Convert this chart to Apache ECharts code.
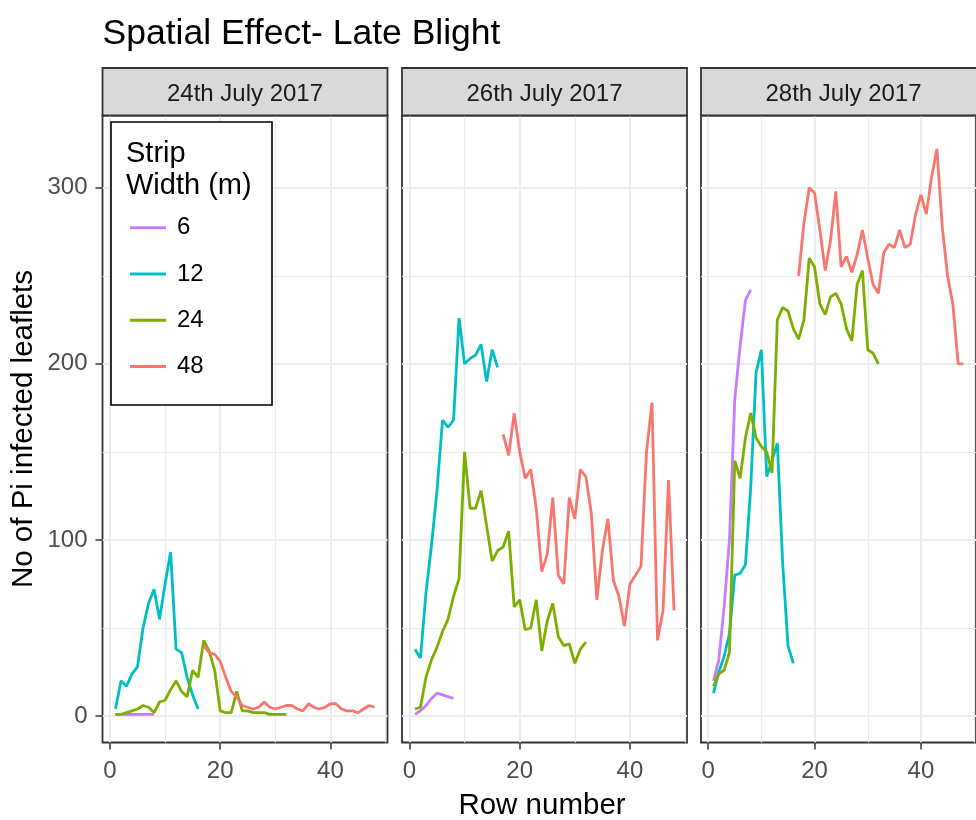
<!DOCTYPE html>
<html>
<head>
<meta charset="utf-8">
<title>Spatial Effect- Late Blight</title>
<script src="https://cdn.jsdelivr.net/npm/echarts@6/dist/echarts.min.js"></script>
<style>
  html, body { margin: 0; padding: 0; background: #ffffff; }
  #main { width: 976px; height: 820px; }
</style>
</head>
<body>
<div id="main"></div>
<script>
// facets and colour groups
var dates = ['24th July 2017', '26th July 2017', '28th July 2017'];
var widths = ['6', '12', '24', '48'];
var widthColors = ['#C77CFF', '#00BFC4', '#7CAE00', '#F8766D'];
var firstRow = [1, 1, 1, 17];   // row where each strip width starts

var xTicks = [0, 20, 40];
var xMinor = [10, 30, 50];
var yTicks = [0, 100, 200, 300];
var yMinor = [50, 150, 250];

// no of infected leaflets per row
var jul24_6  = [1, 1, 1, 1, 1, 1, 1, 1];
var jul24_12 = [4, 20, 17, 24, 28, 50, 64, 72, 55, 75, 93, 38, 36, 22, 12, 4];
var jul24_24 = [1, 1, 2, 3, 4, 6, 5, 2, 8, 9, 15, 20, 14, 11, 26, 22,
                43, 37, 26, 3, 2, 2, 14, 3, 3, 2, 2, 2, 1, 1, 1, 1];
var jul24_48 = [40, 36, 35, 31, 22, 14, 11, 6, 5, 4, 5, 8, 5, 4, 5, 6,
                6, 4, 3, 7, 5, 4, 5, 7, 7, 4, 3, 3, 2, 4, 6, 5];

var jul26_6  = [1, 3, 6, 10, 13, 12, 11, 10];
var jul26_12 = [38, 33, 70, 97, 128, 168, 164, 168, 226, 200, 203, 205, 211, 190, 208, 198];
var jul26_24 = [4, 5, 22, 32, 39, 48, 55, 68, 78, 150, 118, 118, 128, 108, 88, 94,
                96, 105, 62, 66, 49, 50, 66, 37, 54, 64, 45, 40, 41, 30, 38, 42];
var jul26_48 = [160, 148, 172, 150, 135, 140, 118, 82, 92, 124, 80, 75, 124, 112, 140, 136,
                115, 66, 94, 112, 77, 68, 51, 75, 80, 85, 150, 178, 43, 60, 134, 60];

var jul28_6  = [20, 32, 62, 100, 180, 210, 236, 242];
var jul28_12 = [13, 25, 34, 47, 80, 81, 86, 130, 195, 208, 136, 145, 155, 87, 40, 30];
var jul28_24 = [17, 24, 26, 36, 145, 135, 158, 172, 158, 153, 150, 138, 225, 232, 230, 220,
                214, 225, 260, 255, 234, 228, 238, 240, 234, 220, 213, 245, 253, 208, 206, 200];
var jul28_48 = [250, 280, 300, 297, 276, 253, 270, 298, 255, 261, 252, 262, 276, 260, 245, 240,
                263, 268, 266, 276, 266, 268, 285, 296, 285, 306, 322, 278, 250, 234, 200, 200];

var panels = [
  [jul24_6, jul24_12, jul24_24, jul24_48],
  [jul26_6, jul26_12, jul26_24, jul26_48],
  [jul28_6, jul28_12, jul28_24, jul28_48]
];

var font = "'Liberation Sans', Arial, sans-serif";
var panelLeft = [102.5, 402, 701];
var panelW = 285, panelTop = 115.5, panelH = 627, stripTop = 68;

var grids = [], xAxes = [], yAxes = [], series = [], graphics = [];

for (var i = 0; i < panels.length; i++) {
  grids.push({
    left: panelLeft[i], top: panelTop, width: panelW, height: panelH,
    show: true, backgroundColor: '#ffffff', borderColor: '#333333', borderWidth: 1.8
  });

  // major axis: ticks, labels, major grid
  xAxes.push({
    type: 'value', gridIndex: i, min: -1.35, max: 50.35, position: 'bottom',
    axisLine: { show: false, onZero: false },
    axisTick: { show: true, length: 7, customValues: xTicks, lineStyle: { color: '#333333', width: 1.5 } },
    axisLabel: { customValues: xTicks, margin: 17, color: '#4D4D4D', fontSize: 24, fontFamily: font },
    splitLine: { show: true, customValues: xTicks, lineStyle: { color: '#EBEBEB', width: 2 } }
  });
  // minor grid only
  xAxes.push({
    type: 'value', gridIndex: i, min: -1.35, max: 50.35, position: 'bottom',
    axisLine: { show: false, onZero: false },
    axisTick: { show: false, customValues: xMinor },
    axisLabel: { show: false, customValues: xMinor },
    splitLine: { show: true, customValues: xMinor, lineStyle: { color: '#EBEBEB', width: 1.2 } }
  });

  yAxes.push({
    type: 'value', gridIndex: i, min: -15, max: 341, position: 'left',
    axisLine: { show: false, onZero: false },
    axisTick: { show: i === 0, length: 7, customValues: yTicks, lineStyle: { color: '#333333', width: 1.5 } },
    axisLabel: { show: i === 0, customValues: yTicks, margin: 15, color: '#4D4D4D', fontSize: 24, fontFamily: font },
    splitLine: { show: true, customValues: yTicks, lineStyle: { color: '#EBEBEB', width: 2 } }
  });
  yAxes.push({
    type: 'value', gridIndex: i, min: -15, max: 341, position: 'left',
    axisLine: { show: false, onZero: false },
    axisTick: { show: false, customValues: yMinor },
    axisLabel: { show: false, customValues: yMinor },
    splitLine: { show: true, customValues: yMinor, lineStyle: { color: '#EBEBEB', width: 1.2 } }
  });

  for (var k = 0; k < widths.length; k++) {
    var pts = panels[i][k].map(function (v, j) { return [firstRow[k] + j, v]; });
    series.push({
      type: 'line', name: widths[k],
      xAxisIndex: 2 * i, yAxisIndex: 2 * i,
      data: pts, symbol: 'none', showSymbol: false, silent: true,
      color: widthColors[k],
      lineStyle: { color: widthColors[k], width: 2.8 }
    });
  }

  // facet strip
  graphics.push({
    type: 'rect', z: 3,
    shape: { x: panelLeft[i], y: stripTop, width: panelW, height: panelTop - stripTop },
    style: { fill: '#D9D9D9', stroke: '#333333', lineWidth: 1.8 }
  });
  graphics.push({
    type: 'text', z: 3, x: panelLeft[i] + panelW / 2, y: 94,
    style: { text: dates[i], fill: '#1A1A1A', fontSize: 24, fontFamily: font,
             textAlign: 'center', textVerticalAlign: 'middle' }
  });
}

// titles
graphics.push({
  type: 'text', z: 3, x: 102.5, y: 34,
  style: { text: 'Spatial Effect- Late Blight', fill: '#000000', fontSize: 35.5, fontFamily: font,
           textAlign: 'left', textVerticalAlign: 'middle' }
});
graphics.push({
  type: 'text', z: 3, x: 542, y: 806,
  style: { text: 'Row number', fill: '#000000', fontSize: 29.5, fontFamily: font,
           textAlign: 'center', textVerticalAlign: 'middle' }
});
graphics.push({
  type: 'text', z: 3, x: 24, y: 429, rotation: Math.PI / 2,
  style: { text: 'No of Pi infected leaflets', fill: '#000000', fontSize: 29.5, fontFamily: font,
           textAlign: 'center', textVerticalAlign: 'middle' }
});

// legend box and title
graphics.push({
  type: 'rect', z: 3,
  shape: { x: 111, y: 122, width: 161, height: 283 },
  style: { fill: '#ffffff', stroke: '#000000', lineWidth: 1.6 }
});
graphics.push({
  type: 'text', z: 3, x: 126, y: 154,
  style: { text: 'Strip', fill: '#000000', fontSize: 29, fontFamily: font, textVerticalAlign: 'middle' }
});
graphics.push({
  type: 'text', z: 3, x: 126, y: 186,
  style: { text: 'Width (m)', fill: '#000000', fontSize: 29, fontFamily: font, textVerticalAlign: 'middle' }
});

var chart = echarts.init(document.getElementById('main'), null, { renderer: 'canvas' });
chart.setOption({
  animation: false,
  backgroundColor: '#ffffff',
  grid: grids,
  xAxis: xAxes,
  yAxis: yAxes,
  series: series,
  legend: {
    data: widths, orient: 'vertical', left: 130, top: 215.7,
    itemWidth: 36, itemHeight: 3, itemGap: 22.3, icon: 'rect', padding: 0,
    selectedMode: false, z: 5,
    textStyle: { fontSize: 24, lineHeight: 24, color: '#000000', fontFamily: font, padding: [0, 0, 0, 6] }
  },
  graphic: { elements: graphics }
});
</script>
</body>
</html>
